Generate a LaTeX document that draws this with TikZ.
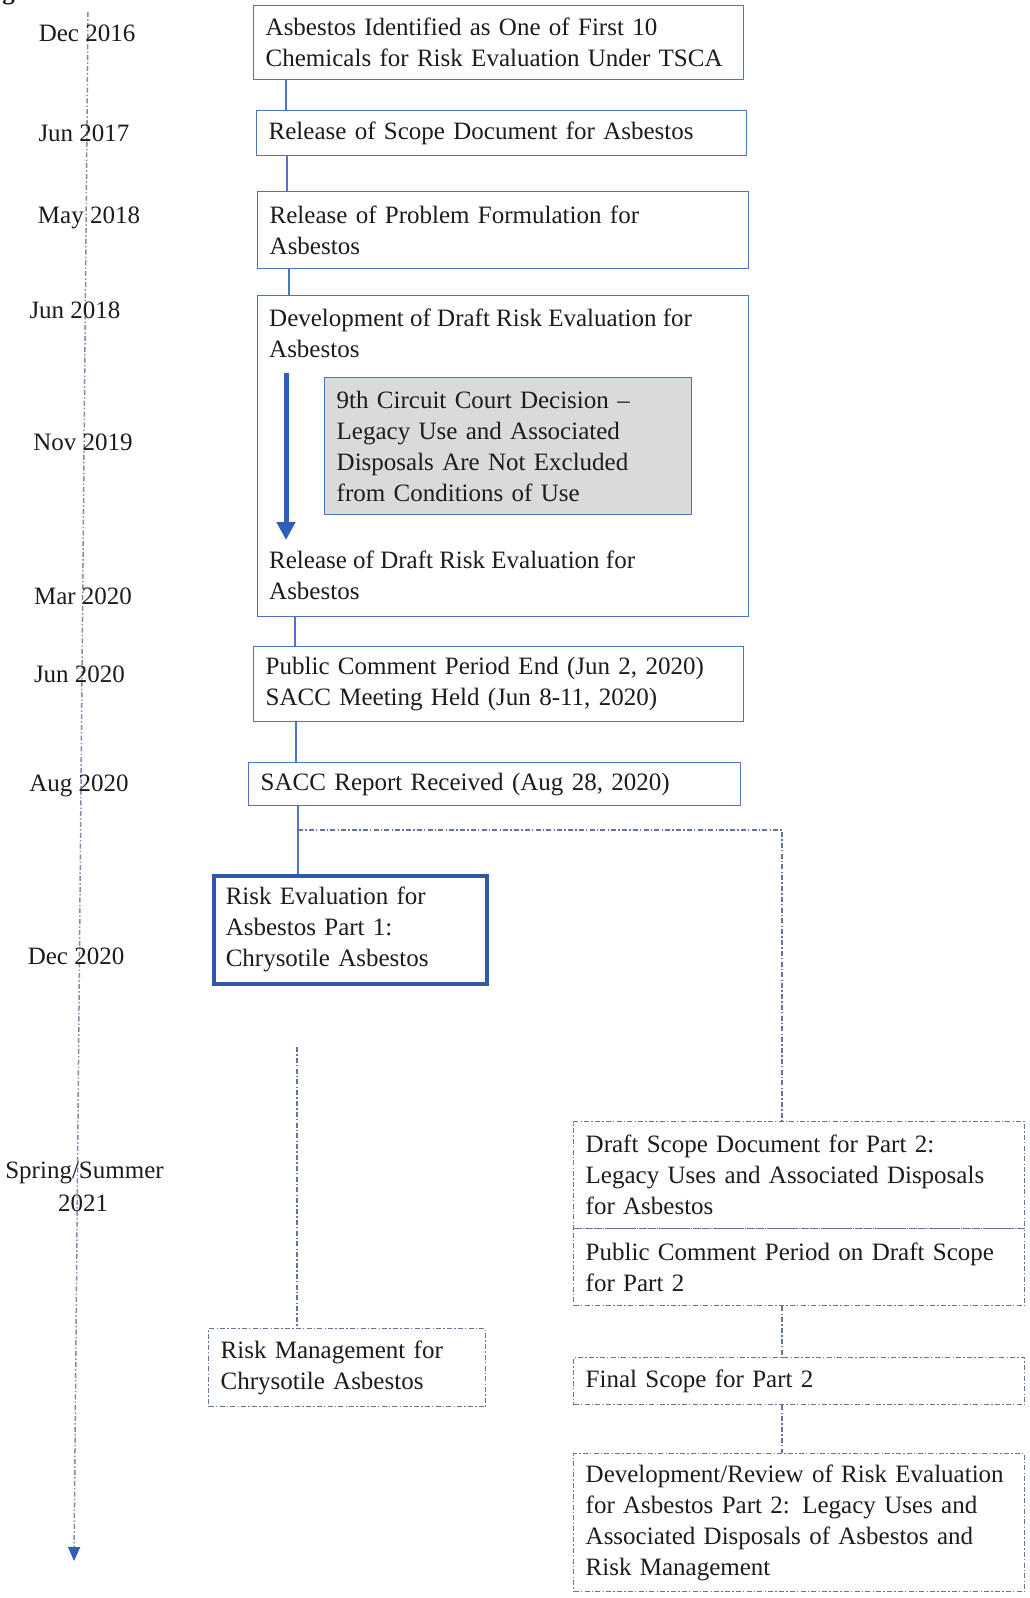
\documentclass[tikz,border=0pt]{standalone}
\usepackage{fontspec}
\setmainfont{Liberation Serif}
\usetikzlibrary{arrows.meta,calc}
\definecolor{bblue}{HTML}{4F74C0}
\definecolor{dblue}{HTML}{2F58A8}
\definecolor{ablue}{HTML}{2E5FB8}
\definecolor{dgray}{HTML}{66769A}
\definecolor{tlgray}{HTML}{7F8CAC}
\definecolor{fillg}{HTML}{DADADA}
\definecolor{txt}{HTML}{1C1C1C}
\tikzset{
  every node/.style={font=\fontsize{25}{31}\selectfont, text=txt},
  box/.style={draw=bblue, line width=1.4pt, anchor=north west, inner xsep=12pt, inner ysep=0pt, align=left},
  boldbox/.style={box, draw=dblue, line width=3.5pt},
  graybox/.style={box, fill=fillg},
  dbox/.style={box, draw=dgray, line width=1.4pt, dash pattern=on 5pt off 2.2pt on 1.4pt off 2.2pt},
  plain/.style={inner sep=0pt, align=left},
  datelab/.style={inner sep=0pt, anchor=base},
  conn/.style={draw=bblue, line width=1.3pt},
  dd/.style={draw=dgray, line width=1.4pt, dash pattern=on 5pt off 2.2pt on 1.4pt off 2.2pt},
  tl/.style={draw=tlgray, line width=1.5pt, dash pattern=on 5pt off 2.2pt on 1.4pt off 2.2pt},
}
\begin{document}
\begin{tikzpicture}[x=1pt,y=-1pt]
\useasboundingbox (0,0) rectangle (1029,1598);
\fill[white] (0,0) rectangle (1029,1598);

% clipped caption fragment
\node[inner sep=0pt, anchor=base west, font=\bfseries\fontsize{25}{31}\selectfont] (fig) at (-20,-1) {Figure};

% timeline
\coordinate (tltop) at (88,12);
\coordinate (tlbot) at (74,1561);
\draw[tl, -{Triangle[length=14pt,width=12pt,color=ablue]}] (tltop) -- (tlbot);

% date labels
\node[datelab] (d1) at (87,41.5) {Dec 2016};
\node[datelab] (d2) at (84,141.5) {Jun 2017};
\node[datelab] (d3) at (89,223) {May 2018};
\node[datelab] (d4) at (75,318) {Jun 2018};
\node[datelab] (d5) at (83,450) {Nov 2019};
\node[datelab] (d6) at (83,604) {Mar 2020};
\node[datelab] (d7) at (79.5,682) {Jun 2020};
\node[datelab] (d8) at (79,791) {Aug 2020};
\node[datelab] (d9) at (76,964) {Dec 2020};
\node[datelab] (d10a) at (84.5,1178) {Spring/Summer};
\node[datelab] (d10b) at (83,1211) {2021};

% main boxes
\node[box, minimum width=490pt, minimum height=74pt, text width=466pt] (b1) at (253,5)
  {Asbestos Identified as One of First 10\\Chemicals for Risk Evaluation Under TSCA};
\node[box, minimum width=490pt, minimum height=45pt, text width=466pt] (b2) at (256,110)
  {Release of Scope Document for Asbestos};
\node[box, minimum width=491pt, minimum height=77pt, text width=467pt] (b3) at (257,191)
  {Release of Problem Formulation for\\Asbestos};
\node[box, minimum width=491pt, minimum height=321pt] (b4) at (257,295) {};
\node[plain, anchor=west] (b4top) at (269,333)
  {Development of Draft Risk Evaluation for\\Asbestos};
\node[plain, anchor=west] (b4bot) at (269,575.5)
  {Release of Draft Risk Evaluation for\\Asbestos};
\node[graybox, minimum width=367pt, minimum height=137pt, text width=343pt] (court) at (324,377)
  {9th Circuit Court Decision –\\Legacy Use and Associated\\Disposals Are Not Excluded\\from Conditions of Use};
\coordinate (arrtop) at (286,373);
\coordinate (arrbot) at (286,540);
\draw[draw=ablue, line width=5pt, -{Triangle[length=18pt,width=18pt]}] (arrtop) -- (arrbot);

\node[box, minimum width=490pt, minimum height=75pt, text width=466pt] (b5) at (253,646)
  {Public Comment Period End (Jun 2, 2020)\\SACC Meeting Held (Jun 8-11, 2020)};
\node[box, minimum width=492pt, minimum height=43pt, text width=468pt] (b6) at (248,762)
  {SACC Report Received (Aug 28, 2020)};
\node[boldbox, minimum width=273pt, minimum height=108pt, text width=249pt] (b7) at (212,874)
  {Risk Evaluation for\\Asbestos Part 1:\\Chrysotile Asbestos};

% dashed boxes
\node[dbox, minimum width=277pt, minimum height=78pt, text width=253pt] (rm) at (208,1328)
  {Risk Management for\\Chrysotile Asbestos};
\node[dbox, minimum width=451pt, minimum height=107pt, text width=427pt] (draft) at (573,1121)
  {Draft Scope Document for Part 2:\\Legacy Uses and Associated Disposals\\for Asbestos};
\node[dbox, minimum width=451pt, minimum height=77pt, text width=427pt] (pub) at (573,1228)
  {Public Comment Period on Draft Scope\\for Part 2};
\node[dbox, minimum width=451pt, minimum height=47pt, text width=427pt] (fin) at (573,1357)
  {Final Scope for Part 2};
\node[dbox, minimum width=451pt, minimum height=138pt, text width=427pt] (dev) at (573,1453)
  {Development/Review of Risk Evaluation\\for Asbestos Part 2: Legacy Uses and\\Associated Disposals of Asbestos and\\Risk Management};

% solid connectors
\draw[conn] ([xshift=33pt]b1.south west) -- ([xshift=33pt]b1.south west |- b2.north);
\draw[conn] ([xshift=31pt]b2.south west) -- ([xshift=31pt]b2.south west |- b3.north);
\draw[conn] ([xshift=32pt]b3.south west) -- ([xshift=32pt]b3.south west |- b4.north);
\draw[conn] ([xshift=38pt]b4.south west) -- ([xshift=38pt]b4.south west |- b5.north);
\draw[conn] ([xshift=43pt]b5.south west) -- ([xshift=43pt]b5.south west |- b6.north);
\draw[conn] ([xshift=50pt]b6.south west) -- ([xshift=50pt]b6.south west |- b7.north);

% dashed connectors
\coordinate (br) at (298,830);
\draw[dd] (br) -| ([xshift=209pt]draft.north west);
\coordinate (rmtop) at (297,1047);
\draw[dd] (rmtop) -- (rmtop |- rm.north);
\draw[dd] ([xshift=209pt]pub.south west) -- ([xshift=209pt]fin.north west);
\draw[dd] ([xshift=209pt]fin.south west) -- ([xshift=209pt]dev.north west);
\end{tikzpicture}
\end{document}
